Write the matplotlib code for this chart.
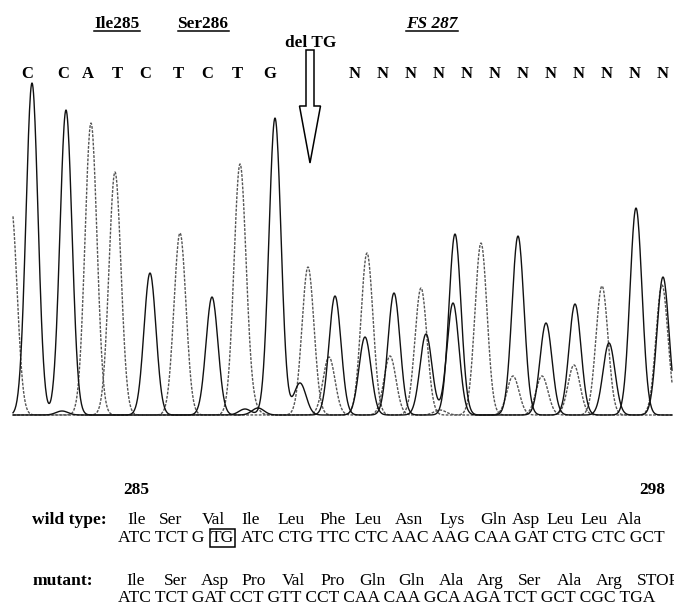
import numpy as np
import matplotlib
matplotlib.use('Agg')
import matplotlib.pyplot as plt
from matplotlib.patches import FancyArrow

# ---------------- data ----------------
# chromatogram peaks (scan position, signal height) per channel
C_pos = [32, 66, 150, 212, 335, 394, 455, 546, 609, 663, 258]
C_ht = [332, 305, 142, 118, 119, 122, 181, 92, 72, 138, 7]
G_pos = [275, 300, 365, 426, 453, 518, 575, 636, 245, 62]
G_ht = [297, 32, 78, 81, 112, 179, 111, 207, 6, 4]
A_pos = [91, 329, 390, 481, 542, 602, 440]
A_ht = [292, 58, 59, 172, 39, 129, 5]
T_pos = [11, 115, 180, 240, 308, 367, 421, 513, 574, 662, 252]
T_ht = [210, 243, 182, 250, 148, 162, 127, 39, 50, 130, 8]

base_calls = ['C', 'C', 'A', 'T', 'C', 'T', 'C', 'T', 'G'] + ['N'] * 12
codon_labels = ['Ile285', 'Ser286', 'FS 287']
deletion_label = 'del TG'
pos_start, pos_end = '285', '298'

wt_aa = ['Ile', 'Ser', 'Val', 'Ile', 'Leu', 'Phe', 'Leu', 'Asn', 'Lys', 'Gln',
         'Asp', 'Leu', 'Leu', 'Ala']
wt_codons_a = 'ATC TCT G'
wt_deleted = 'TG'
wt_codons_b = 'ATC CTG TTC CTC AAC AAG CAA GAT CTG CTC GCT'
mut_aa = ['Ile', 'Ser', 'Asp', 'Pro', 'Val', 'Pro', 'Gln', 'Gln', 'Ala', 'Arg',
          'Ser', 'Ala', 'Arg', 'STOP']
mut_codons = 'ATC TCT GAT CCT GTT CCT CAA CAA GCA AGA TCT GCT CGC TGA'

# ---------------- layout ----------------
W, H = 674, 608
SERIF = 'Liberation Serif'
call_x = [27, 63, 88, 117, 145, 178, 207, 237, 270] + [355 + 28 * i for i in range(12)]
label_x = [117, 203, 432]
wt_aa_x = [137, 171, 213, 251, 291, 333, 368, 409, 452, 493, 526, 560, 594, 629]
mut_aa_x = [136 + 39.4 * i for i in range(13)] + [658]

fig = plt.figure(figsize=(W / 100, H / 100), dpi=100)
fig.patch.set_facecolor('white')

# chromatogram axes: baseline at pixel row 415
ax = fig.add_axes([0, 1 - 420 / H, 1, 420 / H])
ax.set_xlim(0, W)
ax.set_ylim(-5, 415)
ax.axis('off')

scan = np.arange(13, 672.5, 0.5)


def trace(pos, hts, sig=6.0):
    y = np.zeros_like(scan)
    for p, h in zip(pos, hts):
        y += h * np.exp(-0.5 * ((scan - p) / sig) ** 2)
    return y


ax.plot(scan, trace(A_pos, A_ht), color='#555555', lw=1.0, ls=(0, (2, 1)))
ax.plot(scan, trace(T_pos, T_ht), color='#555555', lw=1.0, ls=(0, (2, 1)))
ax.plot(scan, trace(G_pos, G_ht), color='#111111', lw=1.0)
ax.plot(scan, trace(C_pos, C_ht), color='#111111', lw=1.0)

# overlay axes in pixel units for the annotations
ov = fig.add_axes([0, 0, 1, 1], zorder=5)
ov.set_xlim(0, W)
ov.set_ylim(H, 0)
ov.axis('off')
ov.patch.set_alpha(0)

underlined = []
for s, x in zip(codon_labels, label_x):
    st = 'italic' if s.startswith('FS') else 'normal'
    t = ov.text(x, 28, s, fontsize=12.4, fontweight='bold', fontstyle=st,
                ha='center', va='baseline', family=SERIF)
    underlined.append(t)

ov.text(311, 47, deletion_label, fontsize=12.4, fontweight='bold',
        ha='center', va='baseline', family=SERIF)

for b, x in zip(base_calls, call_x):
    ov.text(x, 78, b, fontsize=12, fontweight='bold', ha='center',
            va='baseline', family=SERIF)

arrow = FancyArrow(310, 50, 0, 113, width=8, head_width=21, head_length=57,
                   length_includes_head=True, fc='white', ec='black', lw=1.1)
ov.add_patch(arrow)

# bottom sequence block
ov.text(136, 494, pos_start, fontsize=12.4, fontweight='bold', ha='center',
        va='baseline', family=SERIF)
ov.text(652, 494, pos_end, fontsize=12.4, fontweight='bold', ha='center',
        va='baseline', family=SERIF)

ov.text(32, 524, 'wild type:', fontsize=12.6, fontweight='bold', ha='left',
        va='baseline', family=SERIF)
ov.text(33, 585, 'mutant:', fontsize=12.6, fontweight='bold', ha='left',
        va='baseline', family=SERIF)

for a, x in zip(wt_aa, wt_aa_x):
    ov.text(x, 524, a, fontsize=12.6, ha='center', va='baseline', family=SERIF)
for a, x in zip(mut_aa, mut_aa_x):
    ov.text(x, 585, a, fontsize=12.6, ha='center', va='baseline', family=SERIF)

ov.text(118, 542, wt_codons_a, fontsize=12.6, ha='left', va='baseline', family=SERIF)
ov.text(211, 542, wt_deleted, fontsize=12.6, ha='left', va='baseline', family=SERIF,
        bbox=dict(boxstyle='square,pad=0.06', fc='none', ec='black', lw=1.1))
ov.text(241, 542, wt_codons_b, fontsize=12.6, ha='left', va='baseline', family=SERIF)
ov.text(118, 602, mut_codons, fontsize=12.6, ha='left', va='baseline', family=SERIF)

# underline the codon labels
fig.canvas.draw()
r = fig.canvas.get_renderer()
inv = ov.transData.inverted()
for t in underlined:
    bb = t.get_window_extent(r)
    (x0, _), (x1, _) = inv.transform([(bb.x0, bb.y0), (bb.x1, bb.y0)])
    ov.plot([x0, x1], [31, 31], color='black', lw=1.1)

fig.savefig('out.png', dpi=100, facecolor='white')
